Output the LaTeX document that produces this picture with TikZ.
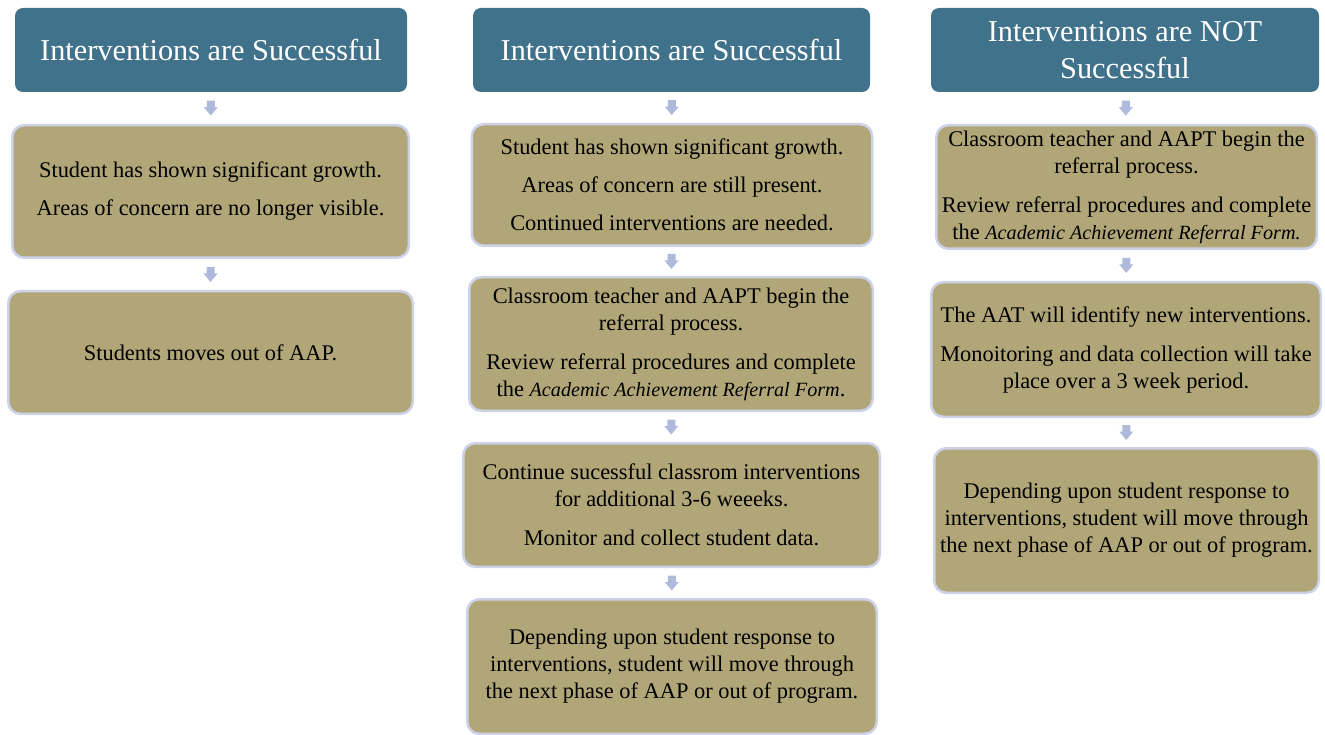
\documentclass[tikz,border=0pt]{standalone}
\usepackage{fontspec}
\setmainfont{Liberation Serif}
\usetikzlibrary{calc}
\definecolor{hdr}{RGB}{65,114,139}
\definecolor{tanc}{RGB}{177,166,119}
\definecolor{bord}{RGB}{204,210,233}
\definecolor{arrc}{RGB}{174,185,220}
\tikzset{
  hdrbox/.style={rounded corners=8pt, fill=hdr, text=white, align=center,
    font=\fontsize{30.3}{37}\selectfont, inner sep=0pt},
  stepbox/.style={rounded corners=12pt, fill=tanc, draw=bord, line width=2.5pt,
    align=center, font=\fontsize{22.4}{27}\selectfont, inner sep=0pt, text=black},
  arrfill/.style={fill=arrc}
}
\newcommand\formname[1]{{\fontsize{20.2}{27}\selectfont\itshape #1}}
\newcommand\darrowbetween[2]{%
  \path ($(#1.south)!0.5!(#2.north)$) coordinate (#1-#2-m);
  \fill[arrfill] (#1-#2-m) ++(-4,-7.5) -- ++(8,0) -- ++(0,6.5) -- ++(3,0)
    -- ++(-7,8.5) -- ++(-7,-8.5) -- ++(3,0) -- cycle;}
\begin{document}
\begin{tikzpicture}[x=1pt,y=-1pt]
\useasboundingbox (0,0) rectangle (1325,735);
% column 1
\node[hdrbox, minimum width=392, minimum height=84] (h1) at (211,50) {Interventions are Successful};
\node[stepbox, minimum width=396.5, minimum height=132.5] (b11) at (210.5,191.5)
  {Student has shown significant growth.\\[11pt]Areas of concern are no longer visible.};
\node[stepbox, minimum width=404.5, minimum height=122.5] (b12) at (210.5,352.5)
  {Students moves out of AAP.};
% column 2
\node[hdrbox, minimum width=397, minimum height=84] (h2) at (671.5,50) {Interventions are Successful};
\node[stepbox, minimum width=400.5, minimum height=121.5] (b21) at (672,185)
  {Student has shown significant growth.\\[11pt]Areas of concern are still present.\\[11pt]Continued interventions are needed.};
\node[stepbox, minimum width=403.5, minimum height=133.5] (b22) at (671,344)
  {Classroom teacher and AAPT begin the\\referral process.\\[12pt]Review referral procedures and complete\\the \formname{Academic Achievement Referral Form}.};
\node[stepbox, minimum width=416.5, minimum height=123.5] (b23) at (671.5,505)
  {Continue sucessful classrom interventions\\for additional 3-6 weeeks.\\[12pt]Monitor and collect student data.};
\node[stepbox, minimum width=409.5, minimum height=134.5] (b24) at (672,666.5)
  {Depending upon student response to\\interventions, student will move through\\the next phase of AAP or out of program.};
% column 3
\node[hdrbox, minimum width=388, minimum height=84] (h3) at (1125,50) {Interventions are NOT\\Successful};
\node[stepbox, minimum width=380.5, minimum height=123.5] (b31) at (1126.5,187)
  {Classroom teacher and AAPT begin the\\referral process.\\[12pt]Review referral procedures and complete\\the \formname{Academic Achievement Referral Form.}};
\node[stepbox, minimum width=389.5, minimum height=134.5] (b32) at (1126,349.5)
  {The AAT will identify new interventions.\\[12pt]Monoitoring and data collection will take\\place over a 3 week period.};
\node[stepbox, minimum width=384.5, minimum height=144.5] (b33) at (1126.5,520.5)
  {Depending upon student response to\\interventions, student will move through\\the next phase of AAP or out of program.};
% arrows
\darrowbetween{h1}{b11}
\darrowbetween{b11}{b12}
\darrowbetween{h2}{b21}
\darrowbetween{b21}{b22}
\darrowbetween{b22}{b23}
\darrowbetween{b23}{b24}
\darrowbetween{h3}{b31}
\darrowbetween{b31}{b32}
\darrowbetween{b32}{b33}
\end{tikzpicture}
\end{document}
